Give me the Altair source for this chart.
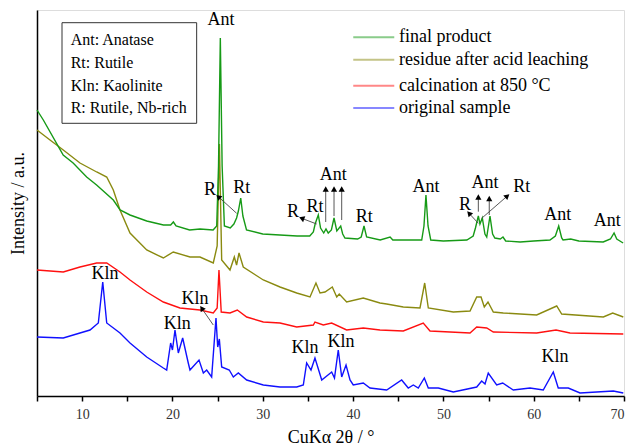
import math
import altair as alt
import pandas as pd

# ---- XRD patterns (2-theta in degrees, intensity in arbitrary units, offset per trace) ----
tt_final = [5.0, 5.7, 7.9, 9.0, 10.5, 11.6, 13.45, 14.2, 15.3, 17.15, 19.0, 19.8, 20.1, 20.4,
            21.9, 23.05, 24.5, 24.9, 25.1, 25.3, 25.5, 25.75, 26.4, 26.8, 27.1, 27.3, 27.56,
            27.8, 28.2, 30.0, 31.9, 33.8, 35.2, 35.6, 35.8, 35.95, 36.15, 36.4, 36.75, 37.0,
            37.25, 37.6, 37.89, 38.2, 38.63, 38.85, 39.1, 40.5, 40.9, 41.21, 41.5, 43.0, 44.1,
            44.4, 46.0, 47.6, 47.85, 48.07, 48.3, 48.6, 50.0, 52.6, 53.3, 53.55, 53.87, 54.05,
            54.31, 54.6, 54.8, 55.16, 55.45, 55.7, 56.3, 56.6, 56.9, 58.5, 60.0, 61.8, 62.4,
            62.77, 63.1, 63.25, 64.1, 65.0, 67.7, 68.5, 68.9, 69.2, 69.9]
i_final = [286, 276, 241, 233, 219, 211, 196, 186, 181, 175, 171, 171, 174, 170,
           166, 167, 166, 170, 230, 358, 230, 170, 168, 172, 178, 185, 198,
           180, 166, 162, 161, 160, 160, 164, 172, 176, 181, 168, 163, 167,
           163, 166, 178, 165, 170, 162, 158, 157, 159, 170, 159, 156, 159,
           156, 156, 156, 170, 201, 170, 156, 155, 156, 160, 168, 180, 172,
           178, 162, 159, 180, 162, 158, 157, 159, 155, 154, 155, 156, 160,
           170, 158, 156, 157, 155, 154, 157, 163, 157, 153]

tt_residue = [5.0, 6.44, 7.91, 9.76, 11.61, 12.72, 13.45, 14.19, 15.3, 17.15, 18.99, 20.09,
              21.94, 23.05, 24.52, 24.95, 25.2, 25.45, 26.37, 26.85, 27.1, 27.37, 27.84, 30.06,
              31.91, 33.76, 35.23, 35.89, 36.34, 36.89, 37.7, 38.19, 38.47, 39.29, 41.13,
              42.98, 43.72, 45.56, 47.41, 47.93, 48.33, 51.1, 52.95, 53.69, 54.17, 54.53,
              54.94, 55.53, 56.63, 60.33, 62.55, 63.1, 67.71, 68.75, 69.92]
i_residue = [266, 256, 246, 233, 224, 219, 206, 186, 163, 146, 138, 144,
             139, 139, 133, 150, 252, 136, 126, 139, 131, 143, 129, 116,
             109, 103, 99, 113, 103, 104, 109, 99, 102, 94, 98,
             93, 92, 89, 88, 113, 88, 84, 85, 99, 99, 89,
             94, 84, 83, 81, 90, 82, 79, 83, 79]

tt_calcined = [5.0, 7.91, 9.76, 11.61, 12.72, 14.19, 15.3, 17.15, 18.99, 20.83, 23.05, 24.52,
               24.95, 25.15, 25.4, 26.37, 27.18, 28.22, 30.06, 31.91, 33.76, 35.6, 35.78,
               36.7, 37.63, 39.29, 41.13, 42.98, 45.56, 47.77, 48.52, 52.95, 53.69, 54.8,
               55.53, 60.33, 62.47, 64.02, 69.92]
i_calcined = [126, 124, 129, 133, 133, 124, 116, 104, 94, 88, 86, 83,
              88, 126, 84, 83, 86, 79, 74, 73, 69, 71, 74,
              71, 73, 66, 68, 66, 65, 73, 65, 63, 69, 68,
              64, 63, 66, 63, 62]

tt_original = [5.0, 7.91, 9.76, 10.87, 11.79, 12.28, 12.72, 14.19, 15.3, 17.15, 18.99, 19.36,
               19.8, 20.0, 20.28, 20.65, 21.13, 21.75, 21.94, 22.94, 23.42, 23.79, 24.34,
               24.82, 25.01, 25.19, 25.45, 26.29, 26.74, 27.29, 28.22, 30.06, 31.91, 33.76,
               34.49, 34.86, 35.34, 35.78, 36.53, 37.63, 37.94, 38.36, 38.74, 39.22, 39.66,
               40.02, 41.13, 41.87, 43.72, 45.38, 46.11, 46.67, 47.22, 47.89, 48.33, 49.44,
               51.1, 53.69, 54.24, 54.61, 54.97, 55.9, 56.57, 57.74, 59.59, 61.06, 62.17,
               62.72, 63.83, 65.13, 68.82, 69.92]
i_original = [59, 58, 63, 66, 73, 114, 73, 63, 53, 39, 28, 26,
              53, 46, 66, 43, 58, 33, 26, 36, 23, 26, 19,
              78, 49, 57, 29, 26, 19, 23, 16, 11, 9, 9,
              11, 33, 26, 38, 16, 24, 18, 46, 19, 31, 16,
              11, 13, 8, 6, 16, 8, 11, 8, 18, 8, 8,
              4, 9, 15, 12, 23, 11, 13, 6, 8, 6, 24,
              8, 8, 3, 5, 3]

series_names = ["final product", "residue after acid leaching",
                "calcination at 850 °C", "original sample"]
series_colors = ["#169a16", "#8a8a10", "#ff1010", "#1010ff"]

# ---- series key (line sample from 2-theta a to b, at intensity level) ----
key_line_tt0 = [40.02] * 4
key_line_tt1 = [44.56] * 4
key_line_i = [358.7, 336.3, 310.3, 288.0]
key_label_tt = [45.08] * 4

# ---- phase labels placed at (2-theta, intensity) ----
lbl_text = ["Ant", "R", "Rt", "R", "Rt", "Ant", "Rt", "Ant", "R", "Ant", "Rt", "Ant", "Ant",
            "Kln", "Kln", "Kln", "Kln", "Kln", "Kln"]
lbl_tt = [25.37, 24.16, 27.67, 33.35, 35.78, 37.81, 41.24, 48.07, 52.39, 54.61, 58.67, 62.66,
          68.15, 12.53, 20.54, 22.5, 34.68, 38.66, 62.36]
lbl_i = [376, 206, 208, 184, 189, 221, 179, 209, 191, 213, 209, 181, 175,
         122, 72, 97, 48, 54, 39]

# ---- arrows: tail -> head ----
arr_tt0 = [27.11, 35.97, 36.97, 37.89, 38.74, 53.87, 53.87, 55.08, 54.24, 24.52]
arr_i0 = [182.7, 172.0, 174.0, 180.0, 176.0, 172.7, 184.3, 181.0, 177.7, 71.0]
arr_tt1 = [25.08, 34.31, 36.97, 37.89, 38.74, 52.84, 53.87, 55.08, 57.08, 23.24]
arr_i1 = [199.3, 177.7, 207.0, 207.0, 207.0, 182.7, 199.0, 197.5, 200.0, 87.7]

# ---- phase abbreviation key ----
abbr_lines = ["Ant: Anatase", "Rt: Rutile", "Kln: Kaolinite", "R: Rutile, Nb-rich"]
abbr_i = [356, 333, 310, 288]

X_DOMAIN = [5, 70]
Y_DOMAIN = [0, 386]
W, H = 587, 386
SERIF = "Liberation Serif"

rows = []
for name, tt, ii in [(series_names[3], tt_original, i_original),
                     (series_names[2], tt_calcined, i_calcined),
                     (series_names[1], tt_residue, i_residue),
                     (series_names[0], tt_final, i_final)]:
    for a, b in zip(tt, ii):
        rows.append({"tt": a, "I": b, "sample": name})
patterns = pd.DataFrame(rows)

x_scale = alt.Scale(domain=X_DOMAIN, nice=False, zero=False)
y_scale = alt.Scale(domain=Y_DOMAIN, nice=False, zero=False)
color_scale = alt.Scale(domain=series_names, range=series_colors)

x_axis = alt.Axis(title="CuKα 2θ / °", values=list(range(5, 71, 5)),
                  labelExpr="datum.value % 10 === 0 ? datum.label : ''",
                  grid=False, tickSize=5, tickWidth=1.5, tickColor="black",
                  domainColor="black", domainWidth=1.5, labelFont=SERIF,
                  labelFontSize=14, labelColor="#333333", labelPadding=6,
                  titleFont=SERIF, titleFontSize=18, titleFontWeight="normal",
                  titleColor="black", titlePadding=7)
y_axis = alt.Axis(title="Intensity / a.u.", labels=False, ticks=False, grid=False,
                  domainColor="black", domainWidth=1.5, titleFont=SERIF,
                  titleFontSize=18, titleFontWeight="normal", titleColor="black",
                  titlePadding=10)

lines = alt.Chart(patterns).mark_line(strokeWidth=1.4, interpolate="linear").encode(
    x=alt.X("tt:Q", scale=x_scale, axis=x_axis),
    y=alt.Y("I:Q", scale=y_scale, axis=y_axis),
    color=alt.Color("sample:N", scale=color_scale, legend=None),
    detail="sample:N",
)

key_df = pd.DataFrame({"a": key_line_tt0, "b": key_line_tt1, "I": key_line_i,
                       "lx": key_label_tt, "sample": series_names})
key_lines = alt.Chart(key_df).mark_rule(strokeWidth=2, opacity=0.5).encode(
    x=alt.X("a:Q", scale=x_scale), x2="b:Q", y=alt.Y("I:Q", scale=y_scale),
    color=alt.Color("sample:N", scale=color_scale, legend=None))
key_labels = alt.Chart(key_df).mark_text(
    font=SERIF, fontSize=18, color="black", baseline="middle", align="left"
).encode(x=alt.X("lx:Q", scale=x_scale), y=alt.Y("I:Q", scale=y_scale), text="sample:N")

labels = alt.Chart(pd.DataFrame({"tt": lbl_tt, "I": lbl_i, "t": lbl_text})).mark_text(
    font=SERIF, fontSize=18, color="black", baseline="middle", align="center"
).encode(x=alt.X("tt:Q", scale=x_scale), y=alt.Y("I:Q", scale=y_scale), text="t:N")

arrow_df = pd.DataFrame({"x0": arr_tt0, "y0": arr_i0, "x1": arr_tt1, "y1": arr_i1})
px_per_deg = W / (X_DOMAIN[1] - X_DOMAIN[0])
px_per_unit = H / (Y_DOMAIN[1] - Y_DOMAIN[0])
arrow_df["ang"] = [
    math.degrees(math.atan2((r.x1 - r.x0) * px_per_deg, (r.y1 - r.y0) * px_per_unit)) % 360
    for r in arrow_df.itertuples()
]

shafts = alt.Chart(arrow_df).mark_rule(color="#444444", strokeWidth=0.9).encode(
    x=alt.X("x0:Q", scale=x_scale), y=alt.Y("y0:Q", scale=y_scale),
    x2="x1:Q", y2="y1:Q")
heads = alt.Chart(arrow_df).mark_point(shape="triangle-up", filled=True, color="black",
                                       size=38, opacity=1).encode(
    x=alt.X("x1:Q", scale=x_scale), y=alt.Y("y1:Q", scale=y_scale),
    angle=alt.Angle("ang:Q", scale=None))

abbr_box = alt.Chart(pd.DataFrame({"x0": [7.77], "x1": [22.68], "y0": [272.7], "y1": [373.3]})
                     ).mark_rect(fillOpacity=0, stroke="#333333", strokeWidth=1).encode(
    x=alt.X("x0:Q", scale=x_scale), x2="x1:Q",
    y=alt.Y("y0:Q", scale=y_scale), y2="y1:Q")
abbr_text = alt.Chart(pd.DataFrame({"tt": [8.73] * 4, "I": abbr_i, "t": abbr_lines})).mark_text(
    font=SERIF, fontSize=16, color="black", baseline="middle", align="left"
).encode(x=alt.X("tt:Q", scale=x_scale), y=alt.Y("I:Q", scale=y_scale), text="t:N")

chart = alt.layer(lines, shafts, heads, labels, key_lines, key_labels, abbr_box, abbr_text
                  ).properties(
    width=W, height=H,
    autosize=alt.AutoSizeParams(type="none"),
    padding={"left": 37, "top": 10, "right": 13, "bottom": 51},
).configure_view(stroke="black", strokeWidth=1.5).configure(background="white")

chart.save("out.html", embed_options={"renderer": "svg", "actions": False})
